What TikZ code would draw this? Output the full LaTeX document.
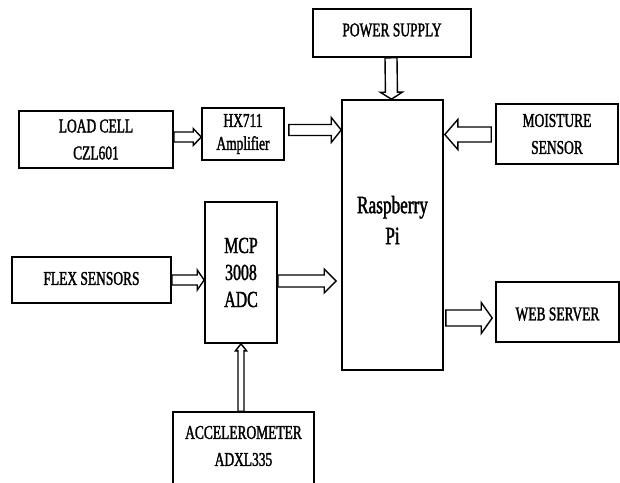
\documentclass[tikz,border=0pt]{standalone}
\usepackage{fontspec}
\setmainfont{Liberation Serif}[FakeStretch=0.69, FakeBold=1.6]
\usetikzlibrary{calc}
\tikzset{
  box/.style={draw=black, line width=1.6pt, fill=white, align=center, inner sep=0pt,
    font=\fontsize{19.5}{27}\selectfont},
  boxtext/.style={align=center, inner sep=0pt, font=\fontsize{19.5}{27}\selectfont},
  blkarrow/.style={draw=black, line width=1.4pt, fill=white, line join=miter},
}
\newcommand\blk[5]{%
  \coordinate (bkc) at ($(#2)!#5!(#1)$);
  \draw[blkarrow] ($(#1)!#3!90:(#2)$) -- ($(bkc)!#3!90:(#2)$) -- ($(bkc)!#4!90:(#2)$) -- (#2)
    -- ($(bkc)!#4!-90:(#2)$) -- ($(bkc)!#3!-90:(#2)$) -- ($(#1)!#3!-90:(#2)$) -- cycle;}
\begin{document}
\begin{tikzpicture}[x=1pt,y=-1pt]
\useasboundingbox (0,0) rectangle (620,482);
\clip (0,0) rectangle (620,482);
\fill[white] (0,0) rectangle (620,482);
% boxes
\node[box, minimum width=154pt, minimum height=57pt] (load) at (96,139.5) {LOAD CELL\\CZL601};
\node[box, minimum width=82pt, minimum height=52pt, font=\fontsize{19.5}{23}\selectfont] (hx) at (243,134) {HX711\\Amplifier};
\node[box, minimum width=158pt, minimum height=48pt] (pow) at (392,33) {};
\node[boxtext] (powtext) at (392,30) {POWER SUPPLY};
\node[box, minimum width=101pt, minimum height=270pt] (rpi) at (392.5,235) {};
\node[boxtext, font=\fontsize{25}{31}\selectfont] (rpitext) at (392.5,220) {Raspberry\\Pi};
\node[box, minimum width=122pt, minimum height=60pt] (moist) at (557,134) {MOISTURE\\SENSOR};
\node[box, minimum width=123pt, minimum height=60pt] (web) at (557.5,312) {};
\node[boxtext] (webtext) at (557.5,314) {WEB SERVER};
\node[box, minimum width=159pt, minimum height=46pt] (flex) at (91.5,280) {};
\node[boxtext] (flextext) at (91.5,278.5) {FLEX SENSORS};
\node[box, minimum width=72pt, minimum height=141pt, font=\fontsize{23}{27}\selectfont] (mcp) at (241,272.5) {MCP\\3008\\ADC};
\node[box, minimum width=141pt, minimum height=90pt] (accel) at (243.5,457) {};
\node[boxtext] (acceltext) at (243.5,446) {ACCELEROMETER\\ADXL335};
% arrow end points
\coordinate (a1s) at (load.east |- 0,137);
\coordinate (a1e) at (hx.west |- 0,137);
\coordinate (a2s) at ([xshift=4pt]hx.east |- 0,130);
\coordinate (a2e) at (rpi.west |- 0,130);
\coordinate (a3s) at ([xshift=-1pt]pow.south);
\coordinate (a3e) at ([xshift=-1pt]rpi.north);
\coordinate (a4s) at ([xshift=-4pt]moist.west |- 0,134.5);
\coordinate (a4e) at ([xshift=1pt]rpi.east |- 0,134.5);
\coordinate (a5s) at ([xshift=2pt]rpi.east |- 0,318);
\coordinate (a5e) at ([xshift=-3pt]web.west |- 0,318);
\coordinate (a6s) at (flex.east |- 0,280);
\coordinate (a6e) at (mcp.west |- 0,280);
\coordinate (a7s) at (mcp.east |- 0,281);
\coordinate (a7e) at ([xshift=-5pt]rpi.west |- 0,281);
\coordinate (a8s) at (mcp.south |- accel.north);
\coordinate (a8e) at (mcp.south);
% arrows
\blk{a1s}{a1e}{5pt}{8.5pt}{8pt}
\blk{a2s}{a2e}{5.5pt}{12.5pt}{10pt}
\blk{a3s}{a3e}{6pt}{11pt}{7pt}
\blk{a4s}{a4e}{7.5pt}{15pt}{13pt}
\blk{a5s}{a5e}{8pt}{15.5pt}{11pt}
\blk{a6s}{a6e}{5pt}{10pt}{7pt}
\blk{a7s}{a7e}{6pt}{12pt}{12pt}
\blk{a8s}{a8e}{3pt}{5.5pt}{7pt}
\end{tikzpicture}
\end{document}
